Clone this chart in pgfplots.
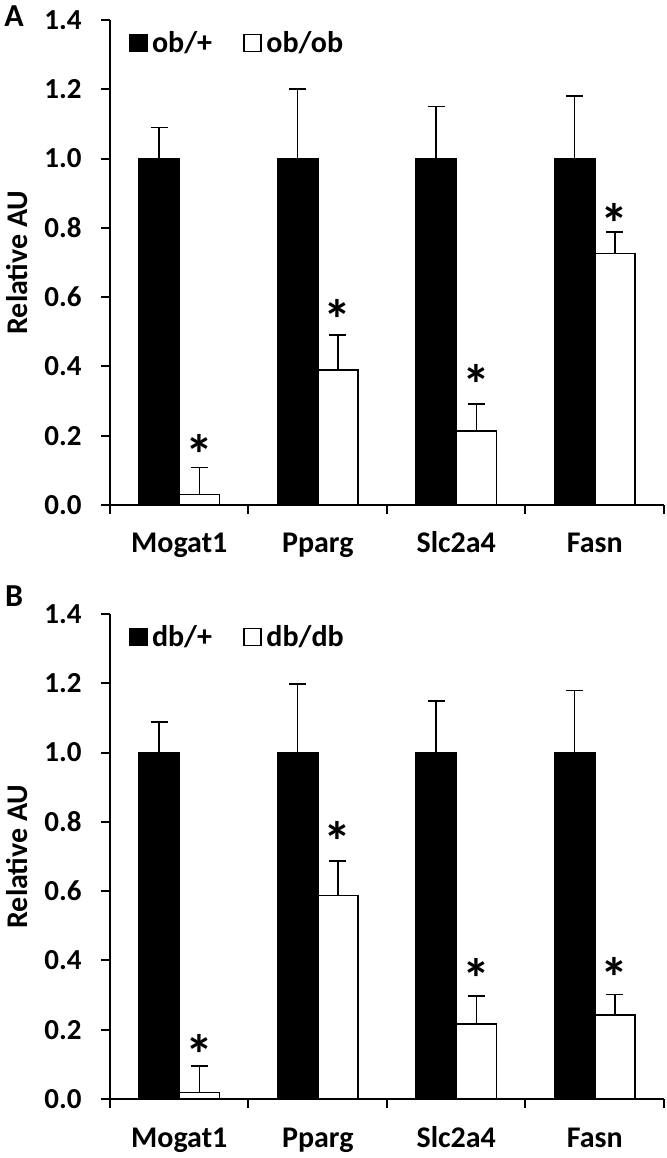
\documentclass[border=0pt]{standalone}
\usepackage{fontspec}
\setmainfont{Carlito}
\usepackage{pgfplots}
\pgfplotsset{compat=1.18}

\pgfplotsset{
 panel/.style={
  scale only axis, width=277pt, height=242.5pt,
  xmin=-0.5, xmax=3.5, ymin=0, ymax=1.4,
  axis x line*=bottom, axis y line*=left,
  axis line style={line width=1pt, black},
  every tick/.style={black, line width=1pt},
  tick align=outside,
  major tick length=4.5pt,
  ytick={0,0.2,0.4,0.6,0.8,1.0,1.2,1.4},
  tick label style={font=\fontsize{14.5}{16}\selectfont\bfseries},
  yticklabel style={anchor=east, inner sep=0pt, xshift=-9.5pt, /pgf/number format/.cd, fixed, fixed zerofill, precision=1, assume math mode=true},
  xtick={-0.5,0.5,1.5,2.5,3.5}, xticklabels={},
  extra x ticks={0,1,2,3},
  extra x tick labels={Mogat1,Pparg,Slc2a4,Fasn},
  extra x tick style={major tick length=0pt, xticklabel style={anchor=base, inner sep=0pt, yshift=-24pt, font=\fontsize{15}{16}\selectfont\bfseries}},
  ylabel={Relative AU},
  ylabel style={at={(axis description cs:-0.168,0.5)}, anchor=center, inner sep=0pt, font=\fontsize{15}{16}\selectfont\bfseries},
  legend style={at={(axis description cs:0.0336,0.9526)}, anchor=west, draw=none, fill=none, inner sep=0pt,
    font=\fontsize{15}{16}\selectfont\bfseries, nodes={inner sep=2.2pt},
    /tikz/every even column/.append style={column sep=13.5pt}},
  legend columns=2,
  legend image code/.code={\draw[#1, line width=0.8pt, draw=black] (0pt,-4.25pt) rectangle (8.5pt,4.25pt);},
 },
 bars/.style={ybar, bar width=0.29, bar shift=0, draw=black, line width=0.8pt,
   error bars/.cd, y dir=plus, y explicit,
   error bar style={line width=0.8pt, black},
   error mark options={rotate=90, mark size=4.25pt, line width=0.8pt, black}},
 stars/.style={draw=none, forget plot, nodes near coords={*},
   nodes near coords style={anchor=base, inner sep=0pt, yshift=-14.6pt, font=\fontsize{28}{28}\selectfont\bfseries}},
}

\begin{document}
\begin{tikzpicture}
\path[use as bounding box] (0,0) rectangle (333.5pt,579pt);
\node[font=\fontsize{16}{17}\selectfont\bfseries] at (7pt,571pt) {A};
\node[font=\fontsize{16}{17}\selectfont\bfseries] at (7pt,281pt) {B};

\begin{axis}[panel, at={(55pt,326.5pt)}, anchor=south west]
\addplot[fill=black, bars] coordinates {(-0.145,1.0) +- (0,0.09) (0.855,1.0) +- (0,0.20) (1.855,1.0) +- (0,0.15) (2.855,1.0) +- (0,0.18)};
\addlegendentry{ob/+}
\addplot[fill=white, bars] coordinates {(0.145,0.03) +- (0,0.078) (1.145,0.39) +- (0,0.10) (2.145,0.213) +- (0,0.078) (3.145,0.726) +- (0,0.062)};
\addlegendentry{ob/ob}
\addplot[stars] coordinates {(0.145,0.172) (1.145,0.562) (2.145,0.374) (3.145,0.84)};
\end{axis}

\begin{axis}[panel, at={(55pt,29.5pt)}, anchor=south west]
\addplot[fill=black, bars] coordinates {(-0.145,1.0) +- (0,0.089) (0.855,1.0) +- (0,0.198) (1.855,1.0) +- (0,0.149) (2.855,1.0) +- (0,0.179)};
\addlegendentry{db/+}
\addplot[fill=white, bars] coordinates {(0.145,0.019) +- (0,0.077) (1.145,0.587) +- (0,0.10) (2.145,0.216) +- (0,0.081) (3.145,0.242) +- (0,0.06)};
\addlegendentry{db/db}
\addplot[stars] coordinates {(0.145,0.154) (1.145,0.771) (2.145,0.374) (3.145,0.376)};
\end{axis}
\end{tikzpicture}
\end{document}
